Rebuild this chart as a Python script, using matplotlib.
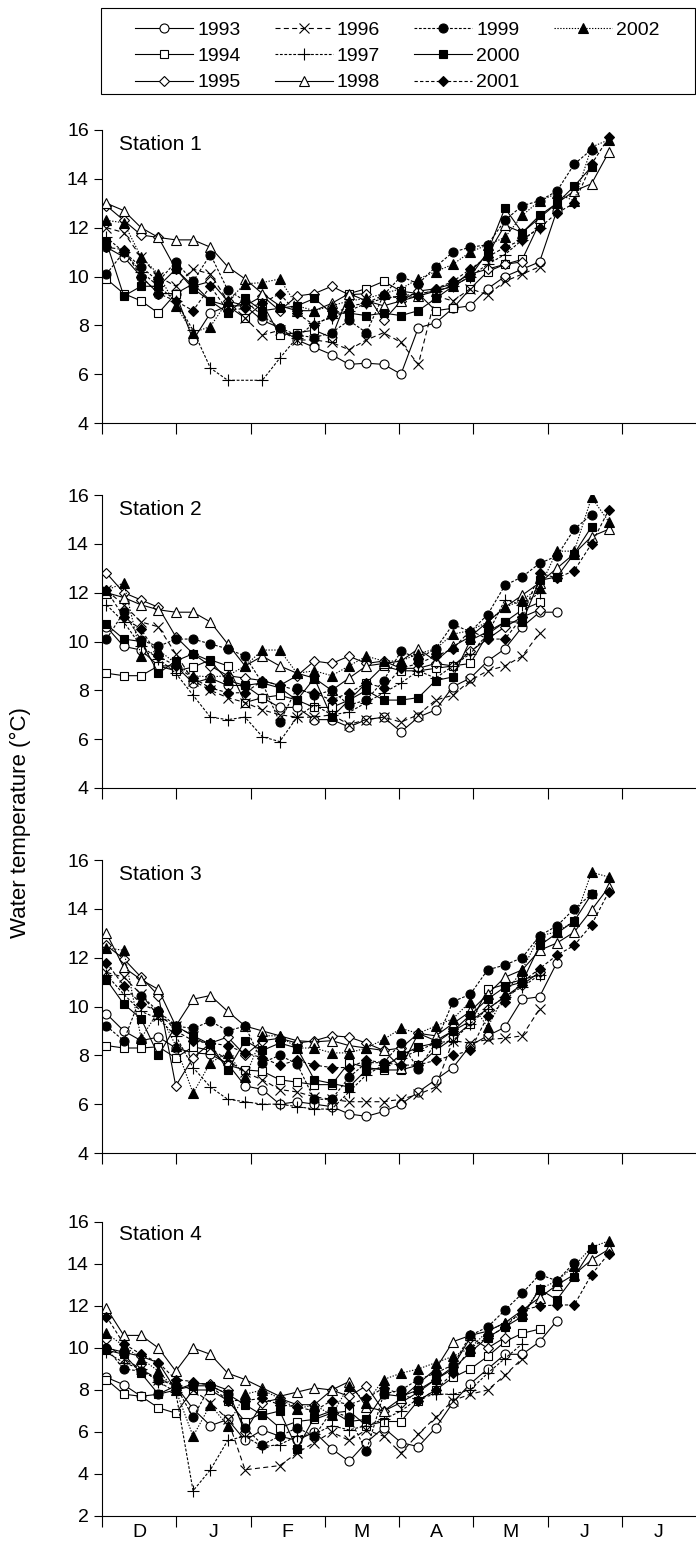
import numpy as np
import matplotlib
matplotlib.use("Agg")
import matplotlib.pyplot as plt
from matplotlib.lines import Line2D
from matplotlib.patches import Rectangle

nan = np.nan

years = [1993, 1994, 1995, 1996, 1997, 1998, 1999, 2000, 2001, 2002]
months = ["D", "J", "F", "M", "A", "M", "J", "J"]
stations = ["Station 1", "Station 2", "Station 3", "Station 4"]

# weekly samples, week 0 = first days of December (nan = no sample that week)
weeks = np.arange(30)

# Station 1
s1_1993 = [11.2, 10.8, 10.0, 9.3, 9.3, 7.4, 8.5, 8.8, 8.8, 8.2, 7.9, 7.4, 7.1, 6.8, 6.4, 6.45, 6.4, 6.0, 7.9, 8.1, 8.7, 8.8, 9.5, 10.0, 10.3, 10.6, 12.7]
s1_1994 = [9.9, 9.3, 9.0, 8.5, 9.3, 9.7, 9.0, 8.8, 8.3, 8.9, 7.6, 7.7, 7.8, 7.5, 9.3, 9.5, 9.8, 9.4, 9.3, 8.6, 8.7, 9.5, 10.2, 10.5, 10.7, 12.2]
s1_1995 = [12.9, 12.3, 11.7, 11.6, 10.3, 9.6, 9.8, 9.0, 8.8, 9.2, 8.6, 9.2, 9.3, 9.6, 9.25, 9.3, 8.2, 9.0, 9.4, 9.5, 9.7, 10.1, 10.3, 10.5, 10.6]
s1_1996 = [12.0, 11.8, 10.8, 10.0, 9.6, 10.3, 10.1, 9.0, 8.3, 7.6, 7.8, 7.4, 7.4, 7.3, 7.0, 7.4, 7.7, 7.3, 6.4, 9.2, 9.0, 9.5, 9.25, 9.8, 10.1, 10.4]
s1_1997 = [11.6, 11.0, 10.2, 9.6, 9.0, 7.8, 6.25, 5.75, nan, 5.75, 6.65, 7.5, 8.1, 8.3, 8.6, 8.9, 9.1, 9.2, 9.3, 9.4, 9.6, 10.0, 10.5, 10.9, 11.5, 12.0]
s1_1998 = [13.0, 12.7, 12.0, 11.6, 11.5, 11.5, 11.2, 10.4, 9.9, 9.3, 8.8, 8.6, 8.6, 8.9, 9.3, 9.0, 8.8, 9.0, 9.2, 9.4, 9.6, 10.2, 10.9, 12.1, 11.8, 12.4, 13.0, 13.5, 13.8, 15.1]
s1_1999 = [10.1, 11.0, 10.4, 9.8, 10.6, 9.8, 10.9, 9.45, 9.0, 8.4, 7.9, 7.6, 7.5, 7.7, 8.2, 7.7, 9.25, 10.0, 9.7, 10.4, 11.0, 11.2, 11.3, 12.3, 12.9, 13.1, 13.5, 14.6, 15.2]
s1_2000 = [11.4, 9.2, 9.6, 9.6, 10.3, 9.5, 9.0, 8.5, 9.1, 8.6, 8.7, 8.8, 9.1, 8.5, 8.5, 8.4, 8.5, 8.4, 8.6, 9.1, 9.6, 10.0, 11.0, 12.8, 11.8, 12.5, 13.0, 13.7, 14.5]
s1_2001 = [11.2, 11.1, 10.0, 9.3, 9.0, 8.6, 9.6, 8.6, 8.7, 8.9, 9.3, 8.5, 8.0, 8.4, 8.8, 8.9, 9.25, 9.1, 9.2, 9.5, 9.8, 10.3, 10.8, 11.2, 11.5, 12.0, 12.6, 13.0, 14.6, 15.7]
s1_2002 = [12.3, 12.2, 10.8, 10.1, 8.8, 7.7, 7.95, 9.0, 9.7, 9.75, 9.9, 8.8, 8.6, 8.8, 9.0, 9.1, 9.3, 9.5, 9.9, 10.2, 10.5, 11.0, 11.3, 11.6, 12.5, 13.1, 13.4, 13.1, 15.3, 15.6]

# Station 2
s2_1993 = [10.6, 9.8, 9.65, 9.0, 9.0, 8.3, 8.5, 8.2, 8.2, 7.7, 7.3, 7.3, 6.8, 6.8, 6.5, 6.8, 6.9, 6.3, 6.9, 7.2, 8.15, 8.5, 9.2, 9.7, 10.6, 11.2, 11.2]
s2_1994 = [8.7, 8.6, 8.6, 9.0, 8.8, 8.95, 9.25, 9.0, 7.5, 7.7, 7.8, 7.6, 7.3, 7.3, 7.6, 8.3, 9.0, 8.8, 8.8, 8.9, 9.0, 9.1, 10.3, 10.8, 11.3, 11.6]
s2_1995 = [12.8, 12.0, 11.7, 11.4, 10.2, 9.5, 9.0, 8.6, 8.5, 8.4, 8.2, 8.6, 9.2, 9.1, 9.4, 9.1, 9.2, 8.9, 8.9, 9.1, 9.0, 9.6, 10.1, 10.6, 11.0, 11.3]
s2_1996 = [12.1, 11.5, 10.8, 10.6, 9.5, 8.4, 8.0, 7.7, 7.5, 7.2, 7.0, 6.9, 6.9, 7.0, 6.6, 6.8, 6.9, 6.7, 7.0, 7.6, 7.8, 8.4, 8.8, 9.0, 9.4, 10.35]
s2_1997 = [11.5, 10.8, 9.8, 9.3, 8.7, 7.8, 6.9, 6.8, 6.9, 6.1, 5.9, 6.9, 7.4, 7.0, 7.1, 7.5, 7.9, 8.3, 8.8, 8.5, 9.0, 9.5, 10.3, 11.7, 11.5, 12.0]
s2_1998 = [12.0, 11.8, 11.5, 11.3, 11.2, 11.2, 10.8, 9.9, 9.0, 9.4, 9.0, 8.7, 8.5, 8.0, 8.5, 9.0, 9.1, 9.2, 9.7, 9.2, 9.8, 10.2, 10.8, 11.4, 11.9, 12.4, 13.0, 13.6, 14.3, 14.6]
s2_1999 = [10.1, 11.2, 10.05, 9.8, 10.1, 10.1, 9.9, 9.7, 9.4, 8.3, 6.7, 8.1, 7.8, 8.0, 7.4, 7.6, 8.4, 9.6, 9.3, 9.7, 10.7, 10.4, 11.1, 12.3, 12.65, 13.2, 13.5, 14.6, 15.2]
s2_2000 = [10.7, 10.1, 10.0, 8.7, 9.2, 9.5, 9.2, 8.4, 8.2, 8.3, 8.1, 7.6, 8.5, 6.9, 7.6, 8.0, 7.6, 7.6, 7.7, 8.4, 8.55, 10.05, 10.4, 10.8, 10.8, 12.5, 12.65, 13.6, 14.7]
s2_2001 = [12.1, 11.0, 10.5, 9.4, 9.0, 8.5, 8.1, 7.9, 7.9, 8.4, 8.2, 8.0, 7.9, 7.6, 7.9, 8.3, 8.1, 8.9, 9.1, 9.4, 9.7, 10.45, 10.1, 10.1, 11.0, 12.8, 12.6, 12.9, 14.0, 15.4]
s2_2002 = [12.1, 12.4, 9.4, 9.65, 9.1, 8.6, 8.55, 8.6, 9.0, 9.65, 9.65, 8.7, 8.8, 8.6, 9.0, 9.4, 9.2, 9.2, 9.5, 9.7, 10.3, 10.45, 10.8, 11.4, 11.7, 12.2, 13.7, 13.7, 15.9, 14.9]

# Station 3
s3_1993 = [9.7, 9.0, 8.6, 8.75, 8.3, 8.1, 8.05, 7.65, 6.75, 6.6, 6.0, 6.1, 6.0, 5.9, 5.6, 5.5, 5.7, 6.0, 6.5, 7.0, 7.5, 8.4, 8.8, 9.15, 10.3, 10.4, 11.8]
s3_1994 = [8.4, 8.3, 8.3, 8.35, 7.9, 8.35, 8.2, 7.6, 7.4, 7.35, 7.0, 6.9, 6.8, 6.8, 7.7, 7.5, 7.4, 7.4, 7.6, 8.2, 8.7, 9.3, 10.7, 10.9, 11.1, 11.3]
s3_1995 = [12.5, 11.95, 11.2, 10.45, 6.75, 7.9, 8.5, 8.75, 8.0, 8.6, 8.7, 8.5, 8.6, 8.8, 8.75, 8.5, 8.2, 8.3, 8.9, 8.6, 9.0, 9.4, 9.9, 10.4, 10.9, 11.4]
s3_1996 = [11.4, 11.2, 10.5, 9.6, 9.2, 8.8, 8.3, 7.8, 7.3, 7.0, 6.6, 6.5, 6.3, 6.2, 6.1, 6.1, 6.1, 6.2, 6.4, 6.7, 8.6, 8.5, 8.65, 8.7, 8.8, 9.9]
s3_1997 = [11.3, 10.5, 9.8, 9.5, 8.8, 7.5, 6.7, 6.2, 6.1, 6.0, 6.0, 5.9, 5.8, 5.8, 6.5, 7.2, 7.6, 7.9, 8.2, 8.5, 8.6, 9.3, 9.9, 10.4, 10.8, 11.3]
s3_1998 = [13.0, 11.6, 11.1, 10.7, 9.2, 10.3, 10.45, 9.8, 9.2, 9.0, 8.8, 8.6, 8.55, 8.6, 8.4, 8.3, 8.2, 7.5, 8.9, 8.8, 9.3, 9.8, 10.5, 11.2, 11.5, 12.3, 12.6, 13.05, 13.95, 14.9]
s3_1999 = [9.2, 8.6, 10.45, 9.8, 9.2, 9.1, 9.4, 9.0, 9.2, 7.7, 8.0, 7.65, 6.2, 6.2, 7.1, 7.7, 7.7, 8.5, 7.45, 8.5, 10.2, 10.5, 11.5, 11.7, 12.0, 12.9, 13.3, 14.0, 14.6]
s3_2000 = [11.1, 10.1, 9.5, 8.0, 9.2, 8.8, 8.45, 7.4, 8.6, 8.2, 8.5, 8.3, 7.0, 6.85, 6.7, 7.4, 7.5, 8.0, 8.35, 8.5, 9.0, 9.65, 10.3, 10.8, 11.0, 12.5, 13.0, 13.5, 14.6]
s3_2001 = [11.8, 10.85, 10.1, 9.8, 9.0, 8.6, 8.5, 8.4, 8.1, 7.9, 7.6, 7.8, 7.6, 7.5, 7.5, 7.8, 7.7, 7.6, 7.6, 7.8, 8.0, 8.2, 9.6, 10.2, 11.0, 11.55, 12.1, 12.5, 13.35, 14.7]
s3_2002 = [12.4, 12.3, 8.7, 9.8, 8.4, 6.45, 7.7, 8.1, 7.1, 8.8, 8.8, 8.3, 8.3, 8.1, 8.1, 8.3, 8.65, 9.1, 8.9, 9.2, 9.5, 10.2, 9.15, 10.5, 11.5, 12.9, 13.05, 13.5, 15.5, 15.3]

# Station 4
s4_1993 = [8.6, 8.25, 7.7, 7.8, 8.2, 7.1, 6.3, 6.6, 5.6, 6.1, 5.8, 5.6, 6.0, 5.2, 4.6, 5.5, 6.2, 5.5, 5.3, 6.2, 7.4, 8.3, 9.0, 9.7, 9.7, 10.3, 11.3]
s4_1994 = [8.5, 7.8, 7.7, 7.15, 6.9, 8.0, 8.0, 7.5, 6.5, 6.9, 6.2, 6.5, 6.6, 6.9, 7.0, 6.3, 6.5, 6.5, 7.5, 8.0, 8.6, 9.0, 9.6, 10.3, 10.7, 10.9]
s4_1995 = [10.0, 9.8, 9.6, 9.3, 8.0, 8.3, 8.3, 8.0, 6.0, 7.4, 7.6, 7.3, 7.3, 8.0, 7.7, 8.2, 7.0, 7.4, 7.9, 8.5, 9.1, 10.5, 10.0, 10.5]
s4_1996 = [10.2, 9.5, 9.0, 8.5, 8.3, 8.0, 7.4, 6.6, 4.2, nan, 4.4, 5.0, 5.5, 6.0, 5.6, 6.1, 5.8, 5.0, 5.9, 6.7, 7.5, 7.8, 8.0, 8.7, 9.5]
s4_1997 = [9.8, 9.3, 9.0, 8.4, 7.9, 3.2, 4.2, 5.6, 5.8, 5.3, 5.4, 5.8, 5.9, 6.3, 6.1, 6.3, 6.6, 7.0, 7.6, 7.8, 7.8, 8.0, 8.8, 9.5, 10.2]
s4_1998 = [11.9, 10.6, 10.6, 10.0, 8.9, 10.0, 9.7, 8.8, 8.5, 8.1, 7.7, 7.9, 8.1, 8.0, 8.4, 7.2, 7.0, 7.6, 8.3, 9.0, 10.3, 10.6, 10.8, 11.2, 11.8, 12.4, 13.0, 13.5, 14.2, 14.7]
s4_1999 = [10.0, 9.0, 8.9, 8.5, 8.2, 6.7, 8.2, 7.8, 6.2, 5.4, 5.8, 6.2, 5.8, 7.0, 6.7, 5.1, 7.8, 8.0, 8.5, 8.8, 9.2, 10.6, 11.0, 11.8, 12.6, 13.5, 13.2, 14.06]
s4_2000 = [9.9, 9.7, 8.8, 7.8, 8.0, 8.2, 8.2, 7.8, 7.3, 6.8, 7.0, 5.2, 6.7, 7.0, 6.5, 6.6, 7.8, 7.7, 8.0, 8.5, 9.0, 9.8, 10.5, 11.0, 11.5, 12.8, 12.3, 13.4, 14.7]
s4_2001 = [11.5, 10.2, 9.7, 9.3, 8.5, 8.4, 8.2, 7.5, 7.5, 7.6, 7.3, 7.2, 7.0, 7.5, 7.3, 7.6, 8.1, 7.8, 7.5, 8.0, 8.8, 10.0, 10.5, 11.0, 11.8, 12.0, 12.05, 12.05, 13.5, 14.5]
s4_2002 = [10.7, 10.1, 9.5, 8.9, 8.0, 5.8, 7.3, 6.3, 7.8, 8.0, 7.6, 7.1, 7.3, 6.8, 8.2, 7.4, 8.5, 8.8, 9.0, 9.3, 9.6, 10.0, 10.8, 11.2, 11.6, 12.8, 13.2, 13.9, 14.8, 15.1]

station_data = [
    [s1_1993, s1_1994, s1_1995, s1_1996, s1_1997, s1_1998, s1_1999, s1_2000, s1_2001, s1_2002],
    [s2_1993, s2_1994, s2_1995, s2_1996, s2_1997, s2_1998, s2_1999, s2_2000, s2_2001, s2_2002],
    [s3_1993, s3_1994, s3_1995, s3_1996, s3_1997, s3_1998, s3_1999, s3_2000, s3_2001, s3_2002],
    [s4_1993, s4_1994, s4_1995, s4_1996, s4_1997, s4_1998, s4_1999, s4_2000, s4_2001, s4_2002],
]

# marker, filled?, linestyle for each year
styles = {
    1993: ("o", False, "-"),
    1994: ("s", False, "-"),
    1995: ("D", False, "-"),
    1996: ("x", True, (0, (4.5, 3))),
    1997: ("+", True, (0, (2.5, 1.5))),
    1998: ("^", False, "-"),
    1999: ("o", True, (0, (2.5, 1.5))),
    2000: ("s", True, "-"),
    2001: ("D", True, (0, (3, 2))),
    2002: ("^", True, (0, (1.2, 1.4))),
}
msize = {"o": 6.5, "s": 6, "D": 5, "x": 7, "+": 8, "^": 6.5}

plt.rcParams["font.family"] = ["Liberation Sans", "DejaVu Sans"]


def style_kw(yr):
    m, filled, ls = styles[yr]
    return dict(color="k", lw=0.8, ls=ls, marker=m, ms=msize[m],
                mfc="k" if filled else "white", mec="k", mew=0.8)


fig = plt.figure(figsize=(6.96, 15.46), dpi=100)
W, H = 696.0, 1546.0
panel_px = [(130, 423, 4), (495, 788, 4), (860, 1153, 4), (1222, 1516, 2)]
xpos = (weeks * 7 + 1.8) / 30.0

for k, (top, bot, ymin) in enumerate(panel_px):
    ax = fig.add_axes([102 / W, 1 - bot / H, 594 / W, (bot - top) / H])
    for yr, vals in zip(years, station_data[k]):
        v = np.array(vals, dtype=float)
        x = xpos[:len(v)]
        ok = ~np.isnan(v)
        # missed weeks are simply bridged by the line
        ax.plot(x[ok], v[ok], **style_kw(yr))
    ax.set_xlim(0, 8)
    ax.set_ylim(ymin, 16)
    ax.set_yticks(np.arange(ymin, 17, 2))
    ax.set_xticks(np.arange(8))
    ax.set_xticklabels([])
    ax.set_xticks(np.arange(8) + 0.5, minor=True)
    if k == 3:
        ax.set_xticklabels(months, minor=True)
    ax.tick_params(axis="x", which="minor", length=0, labelsize=14, pad=6)
    ax.tick_params(axis="x", which="major", direction="out", length=8, width=0.8)
    ax.tick_params(axis="y", direction="out", length=6, width=0.8, labelsize=14)
    for s in ["top", "right"]:
        ax.spines[s].set_visible(False)
    for s in ["left", "bottom"]:
        ax.spines[s].set_linewidth(0.8)
    ax.text(0.23, 15.4, stations[k], fontsize=15, va="center", ha="left")

# legend with a separately drawn box
handles = [Line2D([], [], **style_kw(yr)) for yr in years]
labels = [str(yr) for yr in years]
handles += [Line2D([], [], ls="none", marker="none")] * 2
labels += ["", ""]
fig.legend(handles, labels, ncol=4, loc="upper left",
           bbox_to_anchor=(135 / W, 1 - 21 / H), frameon=False, fontsize=14,
           handlelength=3.0, handletextpad=0.2, columnspacing=1.75,
           labelspacing=0.45, borderpad=0, borderaxespad=0)
fig.add_artist(Rectangle((101 / W, 1 - 94 / H), 594 / W, 86 / H,
                         transform=fig.transFigure, fill=False,
                         edgecolor="k", lw=0.8))

fig.text(20 / W, 1 - 823 / H, "Water temperature (°C)", rotation=90,
         va="center", ha="center", fontsize=16)

fig.savefig("out.png", dpi=100)
